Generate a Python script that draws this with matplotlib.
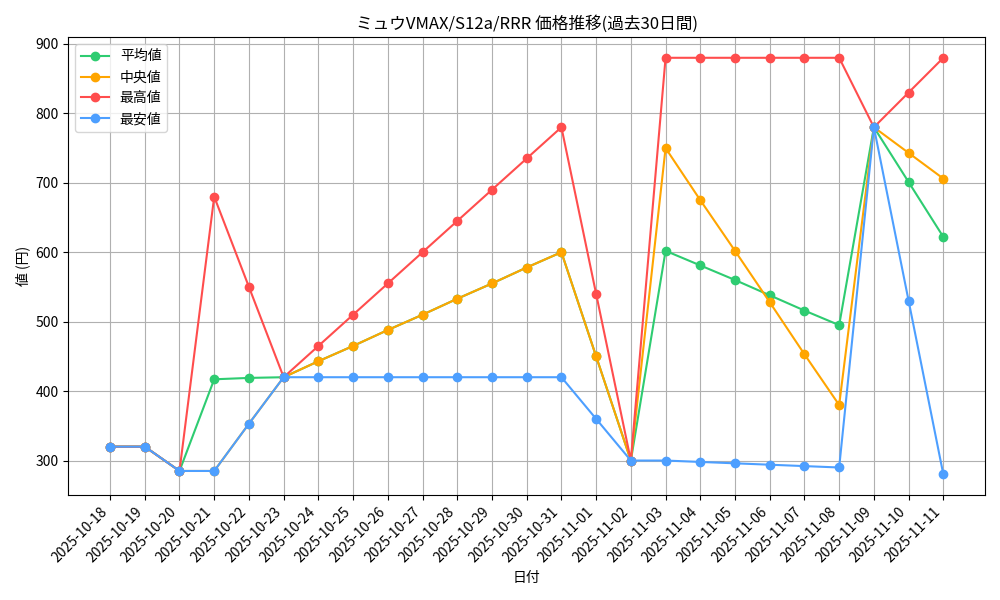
import matplotlib
matplotlib.use('Agg')
import matplotlib.pyplot as plt

plt.rcParams['font.family'] = ['Noto Sans CJK JP', 'DejaVu Sans']

dates = ['2025-10-18', '2025-10-19', '2025-10-20', '2025-10-21', '2025-10-22', '2025-10-23',
         '2025-10-24', '2025-10-25', '2025-10-26', '2025-10-27', '2025-10-28', '2025-10-29',
         '2025-10-30', '2025-10-31', '2025-11-01', '2025-11-02', '2025-11-03', '2025-11-04',
         '2025-11-05', '2025-11-06', '2025-11-07', '2025-11-08', '2025-11-09', '2025-11-10',
         '2025-11-11']

mean_vals = [320, 320, 285, 417, 419, 420, 443, 465, 488, 510, 533, 555, 578, 600,
             450, 300, 602, 581, 560, 538, 516, 495, 780, 701, 622]
median_vals = [320, 320, 285, 285, 353, 420, 443, 465, 488, 510, 533, 555, 578, 600,
               450, 300, 750, 675, 602, 528, 453, 380, 780, 743, 706]
max_vals = [320, 320, 285, 680, 550, 420, 465, 510, 555, 600, 645, 690, 735, 780,
            540, 300, 880, 880, 880, 880, 880, 880, 780, 830, 880]
min_vals = [320, 320, 285, 285, 353, 420, 420, 420, 420, 420, 420, 420, 420, 420,
            360, 300, 300, 298, 296, 294, 292, 290, 780, 530, 280]

fig, ax = plt.subplots(figsize=(10, 6), dpi=100)
ax.plot(dates, mean_vals, marker='o', color='#2ecc71', label='平均値')
ax.plot(dates, median_vals, marker='o', color='#ffa500', label='中央値')
ax.plot(dates, max_vals, marker='o', color='#ff4d4d', label='最高値')
ax.plot(dates, min_vals, marker='o', color='#4d9fff', label='最安値')

ax.set_title('ミュウVMAX/S12a/RRR 価格推移(過去30日間)')
ax.set_xlabel('日付')
ax.set_ylabel('値 (円)')
ax.grid(True)
ax.legend(loc='upper left')
plt.xticks(rotation=45, ha='right')
plt.tight_layout()
plt.savefig('out.png')
